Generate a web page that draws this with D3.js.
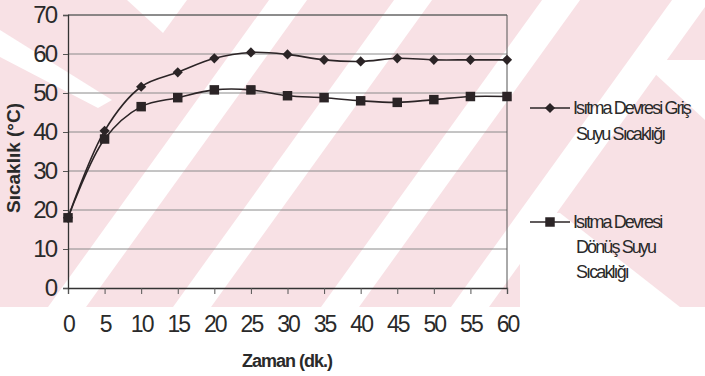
<!DOCTYPE html>
<html>
<head>
<meta charset="utf-8">
<script src="https://cdn.jsdelivr.net/npm/d3@7"></script>
<style>
  html, body { margin: 0; padding: 0; background: #fff; }
  svg { display: block; font-family: "Liberation Sans", Arial, sans-serif; }
</style>
</head>
<body>
<svg id="chart" width="705" height="376"></svg>
<script>
// Time (minutes) and measured temperatures (°C)
const minutes = [0, 5, 10, 15, 20, 25, 30, 35, 40, 45, 50, 55, 60];
const supplyTemp = [18, 40.3, 51.6, 55.3, 58.9, 60.4, 59.9, 58.5, 58.1, 58.9, 58.5, 58.5, 58.5];
const returnTemp = [18, 38.2, 46.5, 48.8, 50.8, 50.8, 49.3, 48.8, 48.0, 47.6, 48.3, 49.1, 49.1];
const yTicks = [0, 10, 20, 30, 40, 50, 60, 70];
const xTicks = [0, 5, 10, 15, 20, 25, 30, 35, 40, 45, 50, 55, 60];
const seriesNames = [
  ["Isıtma Devresi Griş", "Suyu Sıcaklığı"],
  ["Isıtma Devresi", "Dönüş Suyu", "Sıcaklığı"]
];

const svg = d3.select("#chart");
const W = 705, H = 376;

// Pale background stripes
const bg = svg.append("g");
bg.append("clipPath").attr("id", "bgclip")
  .append("rect").attr("x", 0).attr("y", 0).attr("width", W).attr("height", 307);
const bgG = bg.append("g").attr("clip-path", "url(#bgclip)");
bgG.append("rect").attr("x", 0).attr("y", 0).attr("width", W).attr("height", 307).attr("fill", "#f8e1e5");
const slope = 0.72, hw = 19;
[67, 192, 340, 470].forEach(xb => {
  bgG.append("polygon")
    .attr("points", [[xb - hw, 307], [xb + hw, 307], [xb + hw + 307 * slope, 0], [xb - hw + 307 * slope, 0]].map(p => p.join(",")).join(" "))
    .attr("fill", "#fff");
});
// back-slash bands
bgG.append("polygon").attr("points", "0,30 0,57 98,108 112,100").attr("fill", "#fff");
bgG.append("polygon").attr("points", "127,0 187,0 163,33").attr("fill", "#fff");
bgG.append("polygon").attr("points", "520,213 560,213 680,307 520,307").attr("fill", "#fff");
bgG.append("polygon").attr("points", "640,60 705,60 705,120").attr("fill", "#fff");

const x0 = 68, x1 = 507, y0 = 288, y1 = 15;
const x = d3.scaleLinear().domain([0, 60]).range([x0, x1]);
const y = d3.scaleLinear().domain([0, 70]).range([y0, y1]);

// Gridlines
svg.append("g").selectAll("line").data(yTicks.filter(v => v > 0)).join("line")
  .attr("x1", x0).attr("x2", x1)
  .attr("y1", d => y(d)).attr("y2", d => y(d))
  .attr("stroke", "#8a8a8a").attr("stroke-width", 1);

// Plot frame (top & right)
svg.append("path")
  .attr("d", `M${x0},${y1}H${x1}V${y0}`)
  .attr("fill", "none").attr("stroke", "#555").attr("stroke-width", 1);

// Axes
const xAxis = d3.axisBottom(x).tickValues(xTicks).tickSize(6).tickPadding(22).tickFormat(d3.format("d"));
const yAxis = d3.axisLeft(y).tickValues(yTicks).tickSize(5).tickPadding(7).tickFormat(d3.format("d"));

const gx = svg.append("g").attr("transform", `translate(0,${y0})`).call(xAxis);
const gy = svg.append("g").attr("transform", `translate(${x0},0)`).call(yAxis);
[gx, gy].forEach(g => {
  g.select(".domain").attr("stroke", "#333").attr("stroke-width", 1.3);
  g.selectAll(".tick line").attr("stroke", "#555");
  g.selectAll("text").attr("fill", "#2a2a2a").attr("font-family", "Liberation Sans, Arial, sans-serif");
});
gx.selectAll("text").attr("font-size", 23).attr("letter-spacing", "-2px");
gy.selectAll("text").attr("font-size", 24).attr("letter-spacing", "-2px");

// Axis titles
svg.append("text")
  .attr("transform", `translate(20,158) rotate(-90)`)
  .attr("text-anchor", "middle")
  .attr("font-weight", "bold").attr("font-size", 19).attr("fill", "#2a2a2a")
  .text("Sıcaklık (°C)");
svg.append("text")
  .attr("x", 287).attr("y", 367)
  .attr("text-anchor", "middle")
  .attr("font-weight", "bold").attr("font-size", 18).attr("letter-spacing", "-1px").attr("fill", "#2a2a2a")
  .text("Zaman (dk.)");

// Series lines
const line = d3.line().x(d => x(d[0])).y(d => y(d[1])).curve(d3.curveCatmullRom.alpha(0.5));
const sData = [minutes.map((m, i) => [m, supplyTemp[i]]), minutes.map((m, i) => [m, returnTemp[i]])];
const ink = "#2b2426";

sData.forEach(data => {
  svg.append("path").datum(data).attr("d", line)
    .attr("fill", "none").attr("stroke", ink).attr("stroke-width", 1.6);
});

const diamond = d3.symbol().type(d3.symbolDiamond2 || d3.symbolDiamond).size(66);
const square = d3.symbol().type(d3.symbolSquare).size(90);

svg.append("g").selectAll("path").data(sData[1]).join("path")
  .attr("transform", d => `translate(${x(d[0])},${y(d[1])})`)
  .attr("d", square).attr("fill", ink);
svg.append("g").selectAll("path").data(sData[0]).join("path")
  .attr("transform", d => `translate(${x(d[0])},${y(d[1])})`)
  .attr("d", diamond).attr("fill", ink);

// Legend
const legendY = [108, 222];
const legend = svg.append("g");
seriesNames.forEach((lines, i) => {
  const ly = legendY[i];
  legend.append("line").attr("x1", 530).attr("x2", 570).attr("y1", ly).attr("y2", ly)
    .attr("stroke", ink).attr("stroke-width", 1.6);
  legend.append("path").attr("transform", `translate(550,${ly})`)
    .attr("d", i === 0 ? diamond : square)
    .attr("fill", ink);
  lines.forEach((t, j) => {
    legend.append("text")
      .attr("x", j === 0 ? 573 : 576).attr("y", ly + 6 + j * 26 - (i === 1 ? j : 0))
      .attr("font-size", 18).attr("letter-spacing", "-1.9px").attr("fill", "#2a2a2a")
      .text(t);
  });
});
</script>
</body>
</html>
